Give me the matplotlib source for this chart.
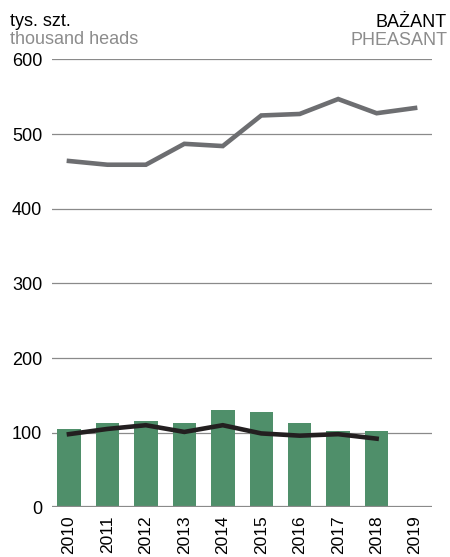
import matplotlib.pyplot as plt

plt.rcParams['font.family'] = ['Liberation Sans', 'DejaVu Sans']

# data
years = ['2010', '2011', '2012', '2013', '2014', '2015', '2016', '2017', '2018', '2019']
bars = [105, 113, 116, 113, 130, 128, 113, 102, 102]
gray_line = [464, 459, 459, 487, 484, 525, 527, 547, 528, 535]
black_line = [98, 105, 110, 101, 110, 99, 96, 98, 92]

COLORS = {
    'bar': '#4f8f6a',
    'gray': '#6d6e71',
    'black': '#231f20',
    'grid': '#8a8a8a',
    'sub': '#8c8c8c',
}

fig = plt.figure(figsize=(4.5, 5.57), dpi=100)
ax = fig.add_axes([0.1156, 0.0892, 0.8444, 0.8040])

x = list(range(len(years)))
ax.bar(x[:len(bars)], bars, width=0.61, color=COLORS['bar'], zorder=2)
ax.plot(x, gray_line, color=COLORS['gray'], lw=3.3, zorder=3,
        solid_joinstyle='miter')
ax.plot(x[:len(black_line)], black_line, color=COLORS['black'], lw=3.3,
        zorder=4, solid_joinstyle='miter')

ax.set_xlim(-0.44, 9.44)
ax.set_ylim(0, 600)
ax.set_yticks([0, 100, 200, 300, 400, 500, 600])
ax.set_xticks(x)
ax.set_xticklabels(years, rotation=90, fontsize=12.5)
ax.tick_params(axis='y', length=0, pad=7, labelsize=13)
ax.tick_params(axis='x', length=0, pad=6)
for s in ax.spines.values():
    s.set_visible(False)
for v in [100, 200, 300, 400, 500, 600]:
    ax.axhline(v, color=COLORS['grid'], lw=0.9, zorder=1)
ax.axhline(0, color=COLORS['grid'], lw=1.6, zorder=5)

# header texts (baselines in pixel coords from the top)
H = 557.0
fig.text(10 / 450, 1 - 26 / H, 'tys. szt.', fontsize=13, ha='left',
         va='baseline')
fig.text(10 / 450, 1 - 44 / H, 'thousand heads', fontsize=13, ha='left',
         va='baseline', color=COLORS['sub'])
fig.text(447 / 450, 1 - 27 / H, 'BAŻANT', fontsize=13, ha='right',
         va='baseline')
fig.text(447 / 450, 1 - 45 / H, 'PHEASANT', fontsize=13, ha='right',
         va='baseline', color=COLORS['sub'])

plt.savefig('out.png', dpi=100, facecolor='white')
plt.close()
